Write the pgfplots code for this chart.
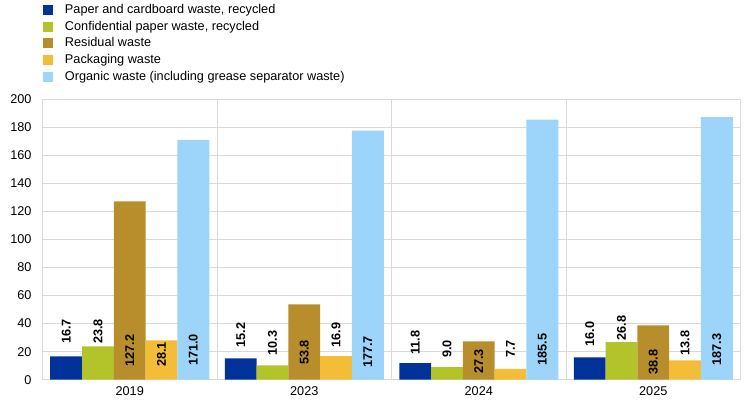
\documentclass[border=0pt]{standalone}
\usepackage{pgfplots}
\pgfplotsset{compat=1.18}
\usepackage{fontspec}
\setmainfont{Liberation Sans}
\definecolor{cBlue}{HTML}{003299}
\definecolor{cGreen}{HTML}{B3C42A}
\definecolor{cBrown}{HTML}{B78E2B}
\definecolor{cYellow}{HTML}{F4BD37}
\definecolor{cLight}{HTML}{9DD4F9}
\definecolor{cGrid}{HTML}{D9D9D9}
\newcommand{\cf}{\fontsize{12.7bp}{15bp}\selectfont}
\pgfplotsset{
  sq/.style={legend image code/.code={\fill[##1,draw=none] (0bp,-1.5bp) rectangle (10bp,8.5bp);}},
}
\begin{document}
\begin{tikzpicture}[x=1bp,y=1bp]
\path[use as bounding box] (-42.5,-27.3) rectangle (701.5,379.7);
\begin{axis}[
  at={(0,0)}, anchor=south west,
  scale only axis, width=698bp, height=280.4bp,
  ybar=0pt, bar width=31.8bp,
  xmin=-0.5, xmax=3.5, ymin=0, ymax=200,
  xtick={0,1,2,3}, xticklabels={2019,2023,2024,2025},
  ytick={0,20,...,200},
  minor xtick={0.5,1.5,2.5},
  ymajorgrids, xminorgrids,
  grid style={cGrid, line width=1bp},
  minor grid style={cGrid, line width=1bp},
  axis line style={cGrid, line width=1bp},
  major tick length=0pt, minor tick length=0pt,
  tick style={draw=none},
  /pgf/number format/assume math mode=true,
  font=\cf,
  ticklabel style={font=\cf, text=black},
  yticklabel style={anchor=east, inner sep=0pt, xshift=-10.8bp},
  xticklabel style={anchor=north, inner sep=0pt, yshift=-7bp},
  legend style={at={(axis description cs:0,1)}, anchor=north west,
    xshift=0.8bp, yshift=94.8bp, draw=none, fill=none,
    inner sep=0pt, outer sep=0pt, row sep=4.67bp, column sep=11.7bp,
    nodes={inner sep=0pt, text height=9bp, text depth=3bp, anchor=base west},
    font=\cf},
  legend cell align=left,
]
\addplot[fill=cBlue, draw=none, sq] coordinates {(0,16.7) (1,15.2) (2,11.8) (3,16.0)};
\addplot[fill=cGreen, draw=none, sq] coordinates {(0,23.8) (1,10.3) (2,9.0) (3,26.8)};
\addplot[fill=cBrown, draw=none, sq] coordinates {(0,127.2) (1,53.8) (2,27.3) (3,38.8)};
\addplot[fill=cYellow, draw=none, sq] coordinates {(0,28.1) (1,16.9) (2,7.7) (3,13.8)};
\addplot[fill=cLight, draw=none, sq] coordinates {(0,171.0) (1,177.7) (2,185.5) (3,187.3)};
\legend{{Paper and cardboard waste, recycled}, {Confidential paper waste, recycled}, {Residual waste}, {Packaging waste}, {Organic waste (including grease separator waste)}}
\end{axis}
\begin{axis}[
  at={(0,0)}, anchor=south west,
  scale only axis, width=698bp, height=280.4bp,
  xmin=-0.5, xmax=3.5, ymin=0, ymax=200,
  hide axis, clip=false,
]
\addplot[draw=none, mark=none, nodes near coords, point meta=explicit symbolic,
  every node near coord/.style={rotate=90, anchor=center, inner sep=0pt, text=black, font=\cf\bfseries}]
  table[meta=lab] {
x y lab
-0.3645 34.5 16.7
-0.1822 34.5 23.8
0.0 20.8 127.2
0.1822 18.0 28.1
0.3645 21.2 171.0
0.6355 31.7 15.2
0.8178 26.3 10.3
1.0 19.4 53.8
1.1822 31.7 16.9
1.3645 19.8 177.7
1.6355 26.3 11.8
1.8178 21.8 9.0
2.0 13.1 27.3
2.1822 21.8 7.7
2.3645 21.4 185.5
2.6355 32.7 16.0
2.8178 37.0 26.8
3.0 12.5 38.8
3.1822 26.3 13.8
3.3645 21.4 187.3
};
\end{axis}
\end{tikzpicture}
\end{document}
